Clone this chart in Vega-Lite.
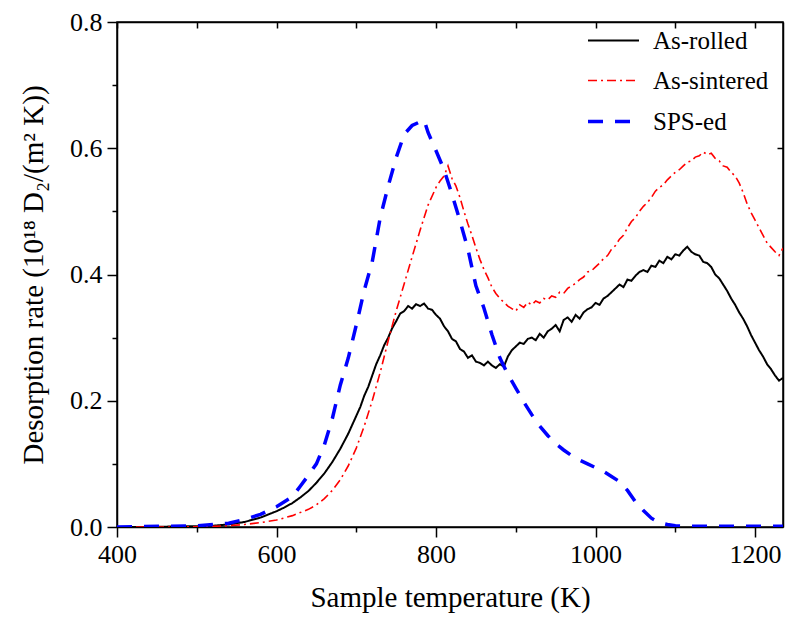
{
"$schema": "https://vega.github.io/schema/vega-lite/v6.json",
"width": 666, "height": 505,
"autosize": "none",
"padding": {"left": 117, "top": 22, "right": 2, "bottom": 90},
"background": "white",
"config": {"view": {"stroke": "black", "strokeWidth": 1.5}, "font": "Liberation Serif"},
"data": {"values": [
{"s":"As-rolled","T":400,"r":0},{"s":"As-rolled","T":440,"r":0},{"s":"As-rolled","T":480,"r":0.001},{"s":"As-rolled","T":500,"r":0.001},{"s":"As-rolled","T":520,"r":0.002},{"s":"As-rolled","T":540,"r":0.004},{"s":"As-rolled","T":560,"r":0.008},{"s":"As-rolled","T":580,"r":0.015},{"s":"As-rolled","T":600,"r":0.025},{"s":"As-rolled","T":610,"r":0.031},{"s":"As-rolled","T":620,"r":0.038},{"s":"As-rolled","T":630,"r":0.047},{"s":"As-rolled","T":640,"r":0.057},{"s":"As-rolled","T":650,"r":0.07},{"s":"As-rolled","T":660,"r":0.085},{"s":"As-rolled","T":670,"r":0.103},{"s":"As-rolled","T":680,"r":0.124},{"s":"As-rolled","T":690,"r":0.148},{"s":"As-rolled","T":700,"r":0.176},{"s":"As-rolled","T":705,"r":0.19},{"s":"As-rolled","T":710,"r":0.208},{"s":"As-rolled","T":715,"r":0.222},{"s":"As-rolled","T":720,"r":0.24},{"s":"As-rolled","T":725,"r":0.258},{"s":"As-rolled","T":730,"r":0.272},{"s":"As-rolled","T":735,"r":0.288},{"s":"As-rolled","T":740,"r":0.3},{"s":"As-rolled","T":745,"r":0.315},{"s":"As-rolled","T":750,"r":0.326},{"s":"As-rolled","T":755,"r":0.338},{"s":"As-rolled","T":760,"r":0.342},{"s":"As-rolled","T":765,"r":0.35},{"s":"As-rolled","T":770,"r":0.346},{"s":"As-rolled","T":775,"r":0.353},{"s":"As-rolled","T":780,"r":0.35},{"s":"As-rolled","T":785,"r":0.354},{"s":"As-rolled","T":790,"r":0.346},{"s":"As-rolled","T":795,"r":0.344},{"s":"As-rolled","T":800,"r":0.336},{"s":"As-rolled","T":805,"r":0.33},{"s":"As-rolled","T":810,"r":0.318},{"s":"As-rolled","T":815,"r":0.31},{"s":"As-rolled","T":820,"r":0.298},{"s":"As-rolled","T":825,"r":0.294},{"s":"As-rolled","T":830,"r":0.282},{"s":"As-rolled","T":835,"r":0.278},{"s":"As-rolled","T":840,"r":0.268},{"s":"As-rolled","T":845,"r":0.272},{"s":"As-rolled","T":850,"r":0.262},{"s":"As-rolled","T":855,"r":0.26},{"s":"As-rolled","T":860,"r":0.256},{"s":"As-rolled","T":865,"r":0.262},{"s":"As-rolled","T":870,"r":0.256},{"s":"As-rolled","T":875,"r":0.252},{"s":"As-rolled","T":880,"r":0.258},{"s":"As-rolled","T":885,"r":0.254},{"s":"As-rolled","T":890,"r":0.27},{"s":"As-rolled","T":895,"r":0.28},{"s":"As-rolled","T":900,"r":0.286},{"s":"As-rolled","T":905,"r":0.292},{"s":"As-rolled","T":910,"r":0.29},{"s":"As-rolled","T":915,"r":0.298},{"s":"As-rolled","T":920,"r":0.3},{"s":"As-rolled","T":925,"r":0.296},{"s":"As-rolled","T":930,"r":0.306},{"s":"As-rolled","T":935,"r":0.3},{"s":"As-rolled","T":940,"r":0.31},{"s":"As-rolled","T":945,"r":0.314},{"s":"As-rolled","T":950,"r":0.32},{"s":"As-rolled","T":955,"r":0.31},{"s":"As-rolled","T":960,"r":0.328},{"s":"As-rolled","T":965,"r":0.332},{"s":"As-rolled","T":970,"r":0.325},{"s":"As-rolled","T":975,"r":0.336},{"s":"As-rolled","T":980,"r":0.33},{"s":"As-rolled","T":985,"r":0.34},{"s":"As-rolled","T":990,"r":0.345},{"s":"As-rolled","T":995,"r":0.348},{"s":"As-rolled","T":1000,"r":0.355},{"s":"As-rolled","T":1005,"r":0.352},{"s":"As-rolled","T":1010,"r":0.362},{"s":"As-rolled","T":1015,"r":0.366},{"s":"As-rolled","T":1020,"r":0.372},{"s":"As-rolled","T":1025,"r":0.378},{"s":"As-rolled","T":1030,"r":0.384},{"s":"As-rolled","T":1035,"r":0.38},{"s":"As-rolled","T":1040,"r":0.392},{"s":"As-rolled","T":1045,"r":0.39},{"s":"As-rolled","T":1050,"r":0.398},{"s":"As-rolled","T":1055,"r":0.404},{"s":"As-rolled","T":1060,"r":0.407},{"s":"As-rolled","T":1065,"r":0.404},{"s":"As-rolled","T":1070,"r":0.414},{"s":"As-rolled","T":1075,"r":0.412},{"s":"As-rolled","T":1080,"r":0.422},{"s":"As-rolled","T":1085,"r":0.418},{"s":"As-rolled","T":1090,"r":0.428},{"s":"As-rolled","T":1095,"r":0.424},{"s":"As-rolled","T":1100,"r":0.432},{"s":"As-rolled","T":1105,"r":0.43},{"s":"As-rolled","T":1110,"r":0.438},{"s":"As-rolled","T":1115,"r":0.444},{"s":"As-rolled","T":1120,"r":0.436},{"s":"As-rolled","T":1125,"r":0.432},{"s":"As-rolled","T":1130,"r":0.43},{"s":"As-rolled","T":1135,"r":0.42},{"s":"As-rolled","T":1140,"r":0.418},{"s":"As-rolled","T":1145,"r":0.412},{"s":"As-rolled","T":1150,"r":0.4},{"s":"As-rolled","T":1155,"r":0.394},{"s":"As-rolled","T":1160,"r":0.384},{"s":"As-rolled","T":1165,"r":0.374},{"s":"As-rolled","T":1170,"r":0.362},{"s":"As-rolled","T":1175,"r":0.352},{"s":"As-rolled","T":1180,"r":0.34},{"s":"As-rolled","T":1185,"r":0.33},{"s":"As-rolled","T":1190,"r":0.318},{"s":"As-rolled","T":1195,"r":0.304},{"s":"As-rolled","T":1200,"r":0.292},{"s":"As-rolled","T":1205,"r":0.28},{"s":"As-rolled","T":1210,"r":0.27},{"s":"As-rolled","T":1215,"r":0.258},{"s":"As-rolled","T":1220,"r":0.25},{"s":"As-rolled","T":1225,"r":0.24},{"s":"As-rolled","T":1230,"r":0.232},{"s":"As-rolled","T":1235,"r":0.236},
{"s":"As-sintered","T":400,"r":0},{"s":"As-sintered","T":480,"r":0},{"s":"As-sintered","T":520,"r":0.001},{"s":"As-sintered","T":540,"r":0.002},{"s":"As-sintered","T":560,"r":0.004},{"s":"As-sintered","T":580,"r":0.007},{"s":"As-sintered","T":600,"r":0.011},{"s":"As-sintered","T":620,"r":0.018},{"s":"As-sintered","T":640,"r":0.028},{"s":"As-sintered","T":650,"r":0.035},{"s":"As-sintered","T":660,"r":0.045},{"s":"As-sintered","T":670,"r":0.058},{"s":"As-sintered","T":680,"r":0.075},{"s":"As-sintered","T":690,"r":0.097},{"s":"As-sintered","T":700,"r":0.125},{"s":"As-sintered","T":710,"r":0.16},{"s":"As-sintered","T":720,"r":0.2},{"s":"As-sintered","T":730,"r":0.245},{"s":"As-sintered","T":740,"r":0.295},{"s":"As-sintered","T":750,"r":0.342},{"s":"As-sintered","T":760,"r":0.385},{"s":"As-sintered","T":770,"r":0.428},{"s":"As-sintered","T":780,"r":0.47},{"s":"As-sintered","T":790,"r":0.51},{"s":"As-sintered","T":800,"r":0.538},{"s":"As-sintered","T":805,"r":0.548},{"s":"As-sintered","T":810,"r":0.556},{"s":"As-sintered","T":815,"r":0.572},{"s":"As-sintered","T":820,"r":0.552},{"s":"As-sintered","T":825,"r":0.54},{"s":"As-sintered","T":830,"r":0.522},{"s":"As-sintered","T":835,"r":0.5},{"s":"As-sintered","T":840,"r":0.48},{"s":"As-sintered","T":845,"r":0.462},{"s":"As-sintered","T":850,"r":0.442},{"s":"As-sintered","T":855,"r":0.424},{"s":"As-sintered","T":860,"r":0.408},{"s":"As-sintered","T":865,"r":0.395},{"s":"As-sintered","T":870,"r":0.38},{"s":"As-sintered","T":875,"r":0.37},{"s":"As-sintered","T":880,"r":0.362},{"s":"As-sintered","T":885,"r":0.356},{"s":"As-sintered","T":890,"r":0.35},{"s":"As-sintered","T":895,"r":0.346},{"s":"As-sintered","T":900,"r":0.342},{"s":"As-sintered","T":905,"r":0.352},{"s":"As-sintered","T":910,"r":0.348},{"s":"As-sintered","T":915,"r":0.356},{"s":"As-sintered","T":920,"r":0.352},{"s":"As-sintered","T":925,"r":0.358},{"s":"As-sintered","T":930,"r":0.355},{"s":"As-sintered","T":935,"r":0.362},{"s":"As-sintered","T":940,"r":0.36},{"s":"As-sintered","T":945,"r":0.366},{"s":"As-sintered","T":950,"r":0.364},{"s":"As-sintered","T":955,"r":0.372},{"s":"As-sintered","T":960,"r":0.37},{"s":"As-sintered","T":965,"r":0.378},{"s":"As-sintered","T":970,"r":0.382},{"s":"As-sintered","T":975,"r":0.386},{"s":"As-sintered","T":980,"r":0.392},{"s":"As-sintered","T":985,"r":0.396},{"s":"As-sintered","T":990,"r":0.404},{"s":"As-sintered","T":995,"r":0.406},{"s":"As-sintered","T":1000,"r":0.412},{"s":"As-sintered","T":1005,"r":0.418},{"s":"As-sintered","T":1010,"r":0.425},{"s":"As-sintered","T":1015,"r":0.43},{"s":"As-sintered","T":1020,"r":0.44},{"s":"As-sintered","T":1025,"r":0.446},{"s":"As-sintered","T":1030,"r":0.456},{"s":"As-sintered","T":1035,"r":0.462},{"s":"As-sintered","T":1040,"r":0.474},{"s":"As-sintered","T":1045,"r":0.484},{"s":"As-sintered","T":1050,"r":0.49},{"s":"As-sintered","T":1055,"r":0.5},{"s":"As-sintered","T":1060,"r":0.508},{"s":"As-sintered","T":1065,"r":0.514},{"s":"As-sintered","T":1070,"r":0.522},{"s":"As-sintered","T":1075,"r":0.532},{"s":"As-sintered","T":1080,"r":0.538},{"s":"As-sintered","T":1085,"r":0.542},{"s":"As-sintered","T":1090,"r":0.55},{"s":"As-sintered","T":1095,"r":0.556},{"s":"As-sintered","T":1100,"r":0.562},{"s":"As-sintered","T":1105,"r":0.566},{"s":"As-sintered","T":1110,"r":0.572},{"s":"As-sintered","T":1115,"r":0.578},{"s":"As-sintered","T":1120,"r":0.58},{"s":"As-sintered","T":1125,"r":0.586},{"s":"As-sintered","T":1130,"r":0.588},{"s":"As-sintered","T":1135,"r":0.594},{"s":"As-sintered","T":1140,"r":0.59},{"s":"As-sintered","T":1145,"r":0.592},{"s":"As-sintered","T":1150,"r":0.584},{"s":"As-sintered","T":1155,"r":0.58},{"s":"As-sintered","T":1160,"r":0.572},{"s":"As-sintered","T":1165,"r":0.57},{"s":"As-sintered","T":1170,"r":0.562},{"s":"As-sintered","T":1175,"r":0.556},{"s":"As-sintered","T":1180,"r":0.545},{"s":"As-sintered","T":1185,"r":0.53},{"s":"As-sintered","T":1190,"r":0.512},{"s":"As-sintered","T":1195,"r":0.498},{"s":"As-sintered","T":1200,"r":0.486},{"s":"As-sintered","T":1205,"r":0.474},{"s":"As-sintered","T":1210,"r":0.462},{"s":"As-sintered","T":1215,"r":0.45},{"s":"As-sintered","T":1220,"r":0.443},{"s":"As-sintered","T":1225,"r":0.436},{"s":"As-sintered","T":1230,"r":0.43},{"s":"As-sintered","T":1235,"r":0.442},
{"s":"SPS-ed","T":400,"r":0},{"s":"SPS-ed","T":500,"r":0.002},{"s":"SPS-ed","T":540,"r":0.006},{"s":"SPS-ed","T":560,"r":0.012},{"s":"SPS-ed","T":580,"r":0.02},{"s":"SPS-ed","T":600,"r":0.032},{"s":"SPS-ed","T":620,"r":0.048},{"s":"SPS-ed","T":630,"r":0.065},{"s":"SPS-ed","T":640,"r":0.082},{"s":"SPS-ed","T":650,"r":0.1},{"s":"SPS-ed","T":660,"r":0.13},{"s":"SPS-ed","T":670,"r":0.172},{"s":"SPS-ed","T":680,"r":0.225},{"s":"SPS-ed","T":690,"r":0.268},{"s":"SPS-ed","T":700,"r":0.32},{"s":"SPS-ed","T":710,"r":0.375},{"s":"SPS-ed","T":720,"r":0.42},{"s":"SPS-ed","T":730,"r":0.49},{"s":"SPS-ed","T":740,"r":0.54},{"s":"SPS-ed","T":750,"r":0.585},{"s":"SPS-ed","T":760,"r":0.622},{"s":"SPS-ed","T":770,"r":0.636},{"s":"SPS-ed","T":780,"r":0.642},{"s":"SPS-ed","T":785,"r":0.645},{"s":"SPS-ed","T":790,"r":0.625},{"s":"SPS-ed","T":800,"r":0.596},{"s":"SPS-ed","T":810,"r":0.566},{"s":"SPS-ed","T":820,"r":0.527},{"s":"SPS-ed","T":830,"r":0.485},{"s":"SPS-ed","T":840,"r":0.44},{"s":"SPS-ed","T":850,"r":0.382},{"s":"SPS-ed","T":860,"r":0.347},{"s":"SPS-ed","T":870,"r":0.305},{"s":"SPS-ed","T":880,"r":0.268},{"s":"SPS-ed","T":890,"r":0.242},{"s":"SPS-ed","T":900,"r":0.22},{"s":"SPS-ed","T":910,"r":0.198},{"s":"SPS-ed","T":920,"r":0.178},{"s":"SPS-ed","T":930,"r":0.16},{"s":"SPS-ed","T":940,"r":0.145},{"s":"SPS-ed","T":950,"r":0.132},{"s":"SPS-ed","T":960,"r":0.122},{"s":"SPS-ed","T":970,"r":0.113},{"s":"SPS-ed","T":980,"r":0.106},{"s":"SPS-ed","T":990,"r":0.1},{"s":"SPS-ed","T":1000,"r":0.094},{"s":"SPS-ed","T":1010,"r":0.088},{"s":"SPS-ed","T":1020,"r":0.08},{"s":"SPS-ed","T":1030,"r":0.072},{"s":"SPS-ed","T":1040,"r":0.058},{"s":"SPS-ed","T":1050,"r":0.04},{"s":"SPS-ed","T":1060,"r":0.026},{"s":"SPS-ed","T":1070,"r":0.014},{"s":"SPS-ed","T":1080,"r":0.007},{"s":"SPS-ed","T":1090,"r":0.004},{"s":"SPS-ed","T":1100,"r":0.002},{"s":"SPS-ed","T":1120,"r":0.001},{"s":"SPS-ed","T":1235,"r":0.001}
]},
"layer": [
{
"mark": {"type": "line", "clip": true},
"encoding": {
"x": {"field": "T", "type": "quantitative", "scale": {"domain": [400, 1235], "nice": false, "zero": false},
 "axis": {"orient": "bottom", "values": [400,500,600,700,800,900,1000,1100,1200], "format": "d", "labelExpr": "datum.value % 200 === 0 ? datum.label : ''", "tickSize": {"condition": {"test": "datum.value % 200 === 0", "value": 10}, "value": 5}, "tickColor": "black", "tickWidth": 1.5, "domainColor": "black", "domainWidth": 1.5, "grid": false, "labelFont": "Liberation Serif", "labelFontSize": 26, "labelColor": "black", "labelPadding": 4, "labelFlush": false, "title": "Sample temperature (K)", "titleFont": "Liberation Serif", "titleFontSize": 29, "titleFontWeight": "normal", "titleColor": "black", "titlePadding": 16}},
"y": {"field": "r", "type": "quantitative", "scale": {"domain": [0, 0.8], "nice": false},
 "axis": {"orient": "left", "values": [0,0.1,0.2,0.3,0.4,0.5,0.6,0.7,0.8], "format": ".1f", "labelExpr": "round(datum.value*10) % 2 === 0 ? datum.label : ''", "tickSize": {"condition": {"test": "round(datum.value*10) % 2 === 0", "value": 10}, "value": 5}, "tickColor": "black", "tickWidth": 1.5, "domainColor": "black", "domainWidth": 1.5, "grid": false, "labelFont": "Liberation Serif", "labelFontSize": 26, "labelColor": "black", "labelPadding": 5, "labelFlush": false, "title": "Desorption rate (10¹⁸ D₂/(m² K))", "titleFont": "Liberation Serif", "titleFontSize": 29, "titleFontWeight": "normal", "titleColor": "black", "titlePadding": 21}},
"color": {"field": "s", "type": "nominal", "scale": {"domain": ["As-rolled", "As-sintered", "SPS-ed"], "range": ["#000000", "#ff0000", "#0000ff"]},
 "legend": {"title": null, "orient": "none", "legendX": 469, "legendY": -8, "labelFont": "Liberation Serif", "labelFontSize": 25, "labelColor": "black", "symbolType": "stroke", "symbolSize": 2600, "labelOffset": 12, "rowPadding": -30}},
"strokeDash": {"field": "s", "type": "nominal", "scale": {"domain": ["As-rolled", "As-sintered", "SPS-ed"], "range": [[1, 0], [9, 4, 2, 4], [15, 12]]},
 "legend": {"title": null, "orient": "none", "legendX": 469, "legendY": -8, "labelFont": "Liberation Serif", "labelFontSize": 25, "labelColor": "black", "symbolType": "stroke", "symbolSize": 2600, "labelOffset": 12, "rowPadding": -30}},
"strokeWidth": {"field": "s", "type": "nominal", "scale": {"type": "ordinal", "domain": ["As-rolled", "As-sintered", "SPS-ed"], "range": [2, 1.6, 3.5]},
 "legend": {"title": null, "orient": "none", "legendX": 469, "legendY": -8, "labelFont": "Liberation Serif", "labelFontSize": 25, "labelColor": "black", "symbolType": "stroke", "symbolSize": 2600, "labelOffset": 12, "rowPadding": -30}}
}
},
{
"mark": {"type": "point", "opacity": 0},
"encoding": {
"x": {"field": "T", "type": "quantitative", "axis": {"orient": "top", "values": [400,500,600,700,800,900,1000,1100,1200], "labels": false, "tickSize": -6, "tickColor": "black", "tickWidth": 1.5, "domainColor": "black", "domainWidth": 1.5, "grid": false, "title": null}},
"y": {"field": "r", "type": "quantitative", "axis": {"orient": "right", "values": [0.2,0.4,0.6], "labels": false, "tickSize": -6, "tickColor": "black", "tickWidth": 1.5, "domainColor": "black", "domainWidth": 1.5, "grid": false, "title": null}}
}
}
],
"resolve": {"axis": {"x": "independent", "y": "independent"}}
}
